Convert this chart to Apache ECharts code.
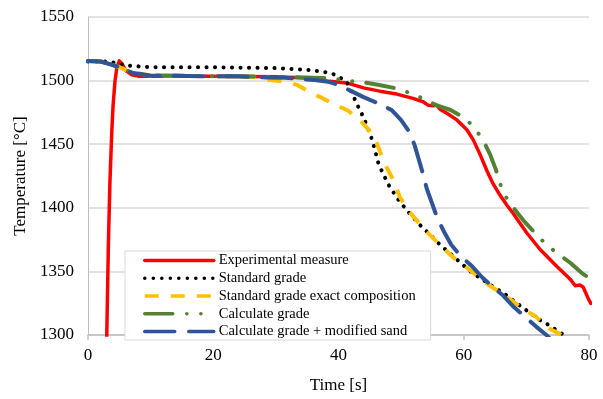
<!DOCTYPE html>
<html>
<head>
<meta charset="utf-8">
<script src="https://cdn.jsdelivr.net/npm/echarts@6/dist/echarts.min.js"></script>
<style>html,body{margin:0;padding:0;background:#fff;}#c{width:603px;height:399px;}</style>
</head>
<body>
<div id="c"></div>
<script>
const seriesNames = ["Experimental measure", "Standard grade", "Standard grade exact composition", "Calculate grade", "Calculate grade + modified sand"];
const xTicks = [0, 20, 40, 60, 80];
const yTicks = [1300, 1350, 1400, 1450, 1500, 1550];

const experimental = [[2.85,1280],[3.0,1300],[3.25,1370],[3.5,1420],[3.8,1460],[4.0,1480],[4.3,1499],[4.6,1510],[5.0,1515.5],[5.4,1513.5],[6.0,1508],[7.0,1504.5],[8,1503.5],[10,1503.5],[20,1503.5],[30,1503],[35,1502],[38.6,1499.4],[41.3,1498.2],[44,1494.3],[46.6,1491.7],[49.3,1489.4],[51.9,1486],[53.5,1483.4],[54.3,1480.7],[55.1,1480.2],[55.7,1480.7],[56.2,1477.5],[57.3,1474.3],[58.9,1469.1],[60.5,1461.4],[61.5,1453.6],[62.6,1442],[63.7,1429.1],[64.7,1418.8],[65.8,1409.8],[66.9,1402],[67.9,1395.5],[70.1,1380],[72.2,1367.2],[74.8,1354.2],[77,1343.9],[77.8,1338.7],[78.6,1339.3],[79.1,1337.4],[79.9,1328.4],[80.3,1324.8]];

const standardGrade = [[0,1515],[3.5,1515],[5,1513],[7,1511.5],[10,1510.6],[20,1510.5],[30,1509.8],[35,1508.5],[37.5,1507],[39,1505.5],[40.2,1502.6],[41.3,1499],[42,1492],[43,1481],[44,1471],[45,1459],[45.8,1446],[46.4,1434.3],[47.2,1426],[48,1418],[49.6,1406],[51.1,1397],[53,1386.5],[54.6,1379],[56.2,1371],[58.3,1362],[61.3,1349],[64.5,1338.7],[66.9,1331],[69,1323],[72.2,1311.6],[73.2,1309],[75.4,1302],[76.5,1298]];

const standardExact = [[0,1515.5],[2,1515],[3.5,1513],[5.1,1510.4],[6.6,1507],[9.9,1504],[20,1503.5],[25,1503],[27,1502.6],[29,1500.5],[31.4,1499.3],[33.5,1496.4],[35.4,1491.1],[37.5,1486],[39.6,1480.7],[41.5,1476.5],[43.4,1469.1],[44.8,1461.4],[46.1,1451],[46.9,1440.7],[47.7,1431.7],[48.8,1421.4],[49.8,1408.5],[51.1,1398],[52.2,1391.7],[53.8,1382.6],[55.1,1376.2],[57,1367.2],[58.3,1361],[60.5,1353],[61.8,1347.8],[64.2,1338.7],[65.8,1333.5],[67.7,1327.1],[69.3,1320.7],[71.4,1315],[73.2,1306.4],[75.1,1301.3],[76,1299]];

const calculateGrade = [[0,1515.5],[2,1515],[3.5,1513],[5.1,1510.4],[7.2,1506],[9.9,1504],[20,1503.5],[30,1503],[36,1502.3],[38.6,1502],[41.3,1500],[44,1498.7],[46.5,1496.6],[49,1494.1],[51.3,1490.5],[53.5,1486],[55.6,1480.7],[57.9,1476.9],[60.2,1470.4],[61.7,1463],[63.1,1453],[64.2,1442],[65.1,1430.4],[65.8,1419],[66.5,1410],[67.7,1402],[68.2,1398.2],[69.7,1389.1],[71.5,1379.5],[73.2,1371],[75,1364],[77,1356.8],[78.9,1348.5],[80,1345]];

const modifiedSand = [[0,1515.5],[2,1515],[3.5,1513],[5.1,1510.4],[7.2,1506],[9.9,1504],[18,1503.4],[24,1503.4],[28.5,1502.5],[31.4,1502.3],[34,1501.2],[36.2,1500.5],[38.6,1498.8],[40,1496.5],[41.8,1492.3],[44,1487],[46.4,1482],[48.5,1476.8],[50,1469],[51.4,1459],[52.2,1448.5],[53.5,1426.5],[54.1,1415],[55.7,1393],[56.7,1382.6],[58,1371],[59.5,1362],[61.3,1354.2],[63,1345],[64.7,1337.4],[66.3,1331],[68,1322],[69.5,1315.5],[71.6,1306.4],[73.2,1300],[73.8,1297]];

const FONT = '"Liberation Serif", "Times New Roman", serif';
const chart = echarts.init(document.getElementById('c'), null, {renderer: 'canvas'});

function mk(name, data, color, width, type, cap) {
  return {
    name: name, type: 'line', data: data, showSymbol: false, symbol: 'none',
    smooth: false, clip: true, animation: false,
    lineStyle: {color: color, width: width, type: type, cap: cap || 'butt', join: 'round'},
    itemStyle: {color: color}
  };
}

chart.setOption({
  animation: false,
  backgroundColor: '#ffffff',
  grid: {left: 88, right: 14, top: 17, bottom: 59, containLabel: false},
  xAxis: {
    type: 'value', min: xTicks[0], max: xTicks[xTicks.length-1], interval: 20,
    name: 'Time [s]', nameLocation: 'middle', nameGap: 42,
    nameTextStyle: {fontFamily: FONT, fontSize: 17, color: '#000'},
    axisLine: {show: true, lineStyle: {color: '#bfbfbf', width: 1.5}},
    axisTick: {show: true, length: 5, lineStyle: {color: '#bfbfbf', width: 1.5}},
    axisLabel: {fontFamily: FONT, fontSize: 17, color: '#000', margin: 12},
    splitLine: {show: false}
  },
  yAxis: {
    type: 'value', min: yTicks[0], max: yTicks[yTicks.length-1], interval: 50,
    name: 'Temperature [°C]', nameLocation: 'middle', nameGap: 48, nameRotate: 90,
    nameTextStyle: {fontFamily: FONT, fontSize: 17, color: '#000'},
    axisLine: {show: true, lineStyle: {color: '#bfbfbf', width: 1}},
    axisTick: {show: false},
    axisLabel: {fontFamily: FONT, fontSize: 17, color: '#000', margin: 14, formatter: function (v) { return String(v); }},
    splitLine: {show: true, lineStyle: {color: '#d9d9d9', width: 1.5}}
  },
  legend: {
    show: true, orient: 'vertical', left: 125, top: 251,
    padding: [2, 15, 1, 18], itemGap: 2.75, itemWidth: 69, itemHeight: 14,
    itemStyle: {opacity: 0},
    lineStyle: {width: 3.5},
    backgroundColor: '#ffffff', borderColor: '#d9d9d9', borderWidth: 1, borderRadius: 0,
    textStyle: {fontFamily: FONT, fontSize: 14.5, color: '#000', lineHeight: 14},
    data: seriesNames
  },
  series: [
    mk(seriesNames[0], experimental, '#ff0000', 3.5, 'solid', 'round'),
    mk(seriesNames[1], standardGrade, '#000000', 4, [0.1, 8.4], 'round'),
    mk(seriesNames[2], standardExact, '#ffc000', 4, [14, 12], 'butt'),
    mk(seriesNames[3], calculateGrade, '#548235', 4, [28, 14, 0.1, 14, 0.1, 14], 'round'),
    mk(seriesNames[4], modifiedSand, '#2f5597', 4, [30, 14], 'round')
  ]
});
</script>
</body>
</html>
